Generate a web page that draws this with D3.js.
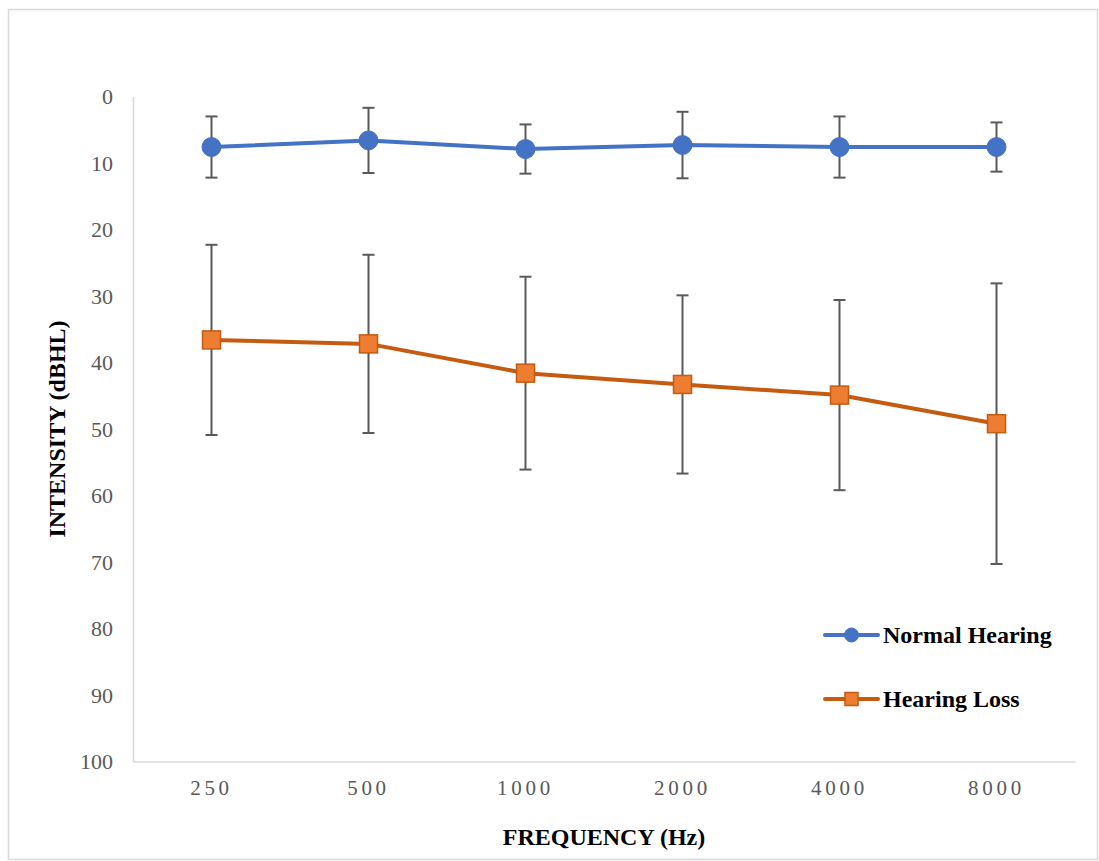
<!DOCTYPE html>
<html>
<head>
<meta charset="utf-8">
<script src="https://cdn.jsdelivr.net/npm/d3@7"></script>
<style>
  html, body { margin: 0; padding: 0; background: #fff; }
  svg { display: block; }
</style>
</head>
<body>
<svg id="chart" width="1099" height="861"></svg>
<script>
// Audiometric thresholds by frequency, mean ± SD (dB HL)
const frequencies = ["250", "500", "1000", "2000", "4000", "8000"];
const normalMean = [7.6, 6.6, 7.9, 7.3, 7.6, 7.6];
const normalSD = [4.6, 4.9, 3.7, 5.0, 4.6, 3.7];
const lossMean = [36.6, 37.2, 41.6, 43.3, 44.9, 49.2];
const lossSD = [14.3, 13.4, 14.5, 13.4, 14.3, 21.1];
const yTicks = [0, 10, 20, 30, 40, 50, 60, 70, 80, 90, 100];

const series = [
  { name: "Normal Hearing", mean: normalMean, sd: normalSD, color: "#4472C4", fill: "#4472C4", marker: "circle" },
  { name: "Hearing Loss", mean: lossMean, sd: lossSD, color: "#C55A11", fill: "#ED7D31", marker: "square" }
];

const svg = d3.select("#chart");
const serif = "'Liberation Serif', 'Times New Roman', serif";

// outer chart frame
svg.append("rect")
  .attr("x", 8.5).attr("y", 9.5).attr("width", 1089).attr("height", 850)
  .attr("fill", "#fff").attr("stroke", "#d9d9d9").attr("stroke-width", 1.5);

const plot = { left: 133, right: 1075, top: 96.5, bottom: 761.5 };

const x = d3.scaleBand().domain(frequencies).range([plot.left, plot.right]);
const y = d3.scaleLinear().domain([0, 100]).range([plot.top, plot.bottom]);

// y axis (inverted: 0 at the top)
const yAxis = svg.append("g")
  .attr("transform", `translate(${plot.left},0)`)
  .call(d3.axisLeft(y).tickValues(yTicks).tickSize(0).tickPadding(20));
yAxis.select(".domain").attr("stroke", "#d9d9d9").attr("stroke-width", 1.5);
yAxis.selectAll("text")
  .attr("font-family", serif).attr("font-size", 22).attr("fill", "#595959");

// x axis
const xAxis = svg.append("g")
  .attr("transform", `translate(0,${plot.bottom})`)
  .call(d3.axisBottom(x).tickSize(0).tickPadding(0));
xAxis.select(".domain").attr("stroke", "#d9d9d9").attr("stroke-width", 1.5);
xAxis.selectAll("text")
  .attr("font-family", serif).attr("font-size", 21).attr("fill", "#595959")
  .attr("letter-spacing", "3.7px")
  .attr("dy", 0).attr("y", 33);

// axis titles
svg.append("text")
  .attr("x", (plot.left + plot.right) / 2).attr("y", 845)
  .attr("text-anchor", "middle")
  .attr("font-family", serif).attr("font-weight", "bold").attr("font-size", 24)
  .attr("fill", "#000")
  .text("FREQUENCY (Hz)");

svg.append("text")
  .attr("transform", `translate(65,${(plot.top + plot.bottom) / 2}) rotate(-90)`)
  .attr("text-anchor", "middle")
  .attr("font-family", serif).attr("font-weight", "bold").attr("font-size", 24)
  .attr("fill", "#000")
  .text("INTENSITY (dBHL)");

const cx = d => x(d) + x.bandwidth() / 2;

// error bars
series.forEach(s => {
  const g = svg.append("g");
  frequencies.forEach((f, i) => {
    const top = y(s.mean[i] - s.sd[i]);
    const bot = y(s.mean[i] + s.sd[i]);
    g.append("line").attr("x1", cx(f)).attr("x2", cx(f)).attr("y1", top).attr("y2", bot)
      .attr("stroke", "#595959").attr("stroke-width", 2);
    [top, bot].forEach(v => {
      g.append("line").attr("x1", cx(f) - 6).attr("x2", cx(f) + 6).attr("y1", v).attr("y2", v)
        .attr("stroke", "#595959").attr("stroke-width", 2);
    });
  });
});

// lines and markers
const line = d3.line().x((d, i) => cx(frequencies[i])).y(d => y(d));
function drawMarker(g, type, px, py, size, s) {
  if (type === "circle") {
    g.append("circle").attr("cx", px).attr("cy", py).attr("r", size / 2)
      .attr("fill", s.fill).attr("stroke", s.color).attr("stroke-width", 1);
  } else {
    g.append("rect").attr("x", px - size / 2).attr("y", py - size / 2)
      .attr("width", size).attr("height", size)
      .attr("fill", s.fill).attr("stroke", s.color).attr("stroke-width", 1.5);
  }
}

series.forEach(s => {
  svg.append("path").datum(s.mean)
    .attr("d", line).attr("fill", "none")
    .attr("stroke", s.color).attr("stroke-width", 4).attr("stroke-linejoin", "round");
  const g = svg.append("g");
  s.mean.forEach((v, i) => {
    drawMarker(g, s.marker, cx(frequencies[i]), y(v), s.marker === "circle" ? 19 : 18, s);
  });
});

// legend
const legendRows = [635, 699];
series.forEach((s, i) => {
  const ly = legendRows[i];
  const g = svg.append("g");
  g.append("line").attr("x1", 825).attr("x2", 878).attr("y1", ly).attr("y2", ly)
    .attr("stroke", s.color).attr("stroke-width", 4).attr("stroke-linecap", "round");
  drawMarker(g, s.marker, 851.5, ly, s.marker === "circle" ? 14 : 13, s);
  g.append("text").attr("x", 883).attr("y", ly).attr("dy", "0.35em")
    .attr("font-family", serif).attr("font-weight", "bold").attr("font-size", 24)
    .attr("fill", "#000")
    .text(s.name);
});
</script>
</body>
</html>
